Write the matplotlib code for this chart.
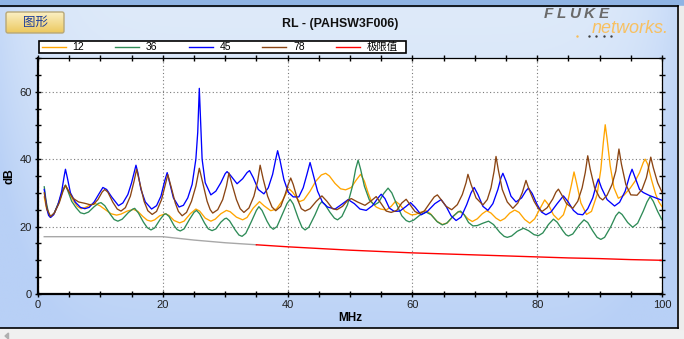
import numpy as np
import matplotlib
matplotlib.use('Agg')
import matplotlib.pyplot as plt
from matplotlib.patches import Rectangle, FancyBboxPatch, Polygon

plt.rcParams['font.family'] = ['Liberation Sans', 'Noto Sans CJK SC', 'DejaVu Sans']

# ---------------- data ----------------
title = 'RL - (PAHSW3F006)'
series_names = ['12', '36', '45', '78']
limit_name = '极限值'
x_ticks = [0, 20, 40, 60, 80, 100]
y_ticks = [0, 20, 40, 60]

freq_12 = [1.0, 1.4, 2.0, 2.6, 3.4, 4.0, 4.4, 4.8, 5.6, 6.3, 6.9, 7.6, 8.4, 9.2, 9.9, 10.8, 11.7,
           12.6, 13.3, 14.3, 15.3, 16.0, 16.8, 17.5, 18.1, 18.7, 19.5, 20.4, 21.0, 21.8, 22.7,
           23.4, 24.4, 25.3, 25.9, 26.8, 27.7, 28.4, 29.3, 30.2, 30.8, 31.8, 32.8, 33.5, 34.5,
           35.5, 36.2, 37.3, 38.2, 39.2, 39.9, 40.3, 40.8, 41.9, 42.6, 43.6, 44.5, 45.4, 46.1,
           46.7, 47.6, 48.5, 49.3, 50.2, 51.0, 51.7, 52.3, 52.9, 53.5, 54.2, 54.9, 55.8, 56.6,
           57.3, 58.0, 58.8, 59.8, 60.5, 61.4, 62.2, 62.9, 63.9, 64.8, 65.6, 66.5, 67.4, 68.1,
           68.9, 69.6, 70.4, 71.2, 71.9, 72.6, 73.4, 74.1, 74.8, 75.6, 76.4, 77.1, 78.0, 78.8,
           79.6, 80.5, 81.2, 81.8, 82.6, 83.4, 84.2, 84.9, 85.5, 85.9, 86.3, 87.0, 87.9, 88.7,
           89.6, 90.2, 90.6, 90.9, 91.2, 91.7, 92.3, 93.0, 93.9, 94.9, 95.7, 96.4, 97.0, 97.3,
           97.7, 98.3, 99.0, 99.5, 100.0]
db_12 = [28.8, 25.0, 22.8, 23.8, 27.5, 31.0, 32.2, 31.0, 27.9, 26.0, 25.3, 25.7, 26.4, 26.8, 26.2,
         25.0, 23.8, 23.4, 23.7, 24.6, 25.1, 24.5, 23.0, 21.9, 21.6, 22.0, 23.2, 23.8, 23.3, 21.8,
         21.1, 21.6, 23.8, 25.2, 24.6, 22.5, 21.6, 22.2, 23.8, 24.8, 24.4, 22.8, 22.0, 22.7, 25.5,
         27.4, 26.2, 24.7, 25.2, 27.8, 30.3, 31.1, 30.2, 27.4, 27.9, 30.5, 33.4, 35.3, 35.8,
         35.0, 32.8, 31.2, 30.9, 31.6, 33.8, 35.5, 33.5, 30.0, 27.2, 25.8, 25.2, 24.9, 26.0,
         27.5, 26.5, 24.5, 23.5, 23.6, 24.3, 24.7, 23.8, 21.6, 20.6, 21.1, 23.0, 24.5, 23.9,
         22.3, 21.5, 22.3, 23.8, 24.7, 24.0, 22.5, 21.7, 22.4, 24.0, 24.9, 24.2, 22.1, 21.0,
         22.3, 25.5, 27.9, 26.5, 23.5, 22.0, 23.5, 27.5, 32.5, 36.2, 33.0, 27.0, 23.6, 24.5,
         29.5, 37.0, 45.0, 50.2, 46.0, 38.0, 31.5, 28.4, 29.3, 31.4, 33.5, 36.0, 39.0, 40.0,
         38.5, 34.0, 29.5, 27.3, 25.9]

freq_36 = [1.0, 1.3, 1.7, 2.0, 2.6, 3.4, 4.0, 4.4, 4.8, 5.4, 6.1, 6.8, 7.4, 8.1, 9.0, 9.7, 10.1,
           10.7, 11.6, 12.2, 12.8, 13.5, 14.5, 15.2, 15.5, 16.1, 16.9, 17.5, 18.1, 18.7, 19.6,
           20.2, 20.5, 21.0, 21.8, 22.3, 22.8, 23.4, 24.3, 25.0, 25.4, 25.9, 26.7, 27.3, 27.9,
           28.5, 29.3, 29.9, 30.2, 30.7, 31.6, 32.2, 32.7, 33.3, 34.2, 35.0, 35.4, 35.9, 36.7,
           37.2, 37.7, 38.3, 39.2, 39.9, 40.4, 40.9, 41.7, 42.3, 42.8, 43.4, 44.4, 45.1, 45.5,
           46.0, 46.8, 47.5, 48.0, 48.7, 49.6, 50.4, 50.9, 51.3, 51.7, 52.3, 53.1, 53.9, 54.6,
           55.4, 56.1, 56.7, 57.5, 58.3, 59.0, 59.5, 60.2, 61.2, 62.2, 63.0, 64.0, 64.8, 65.5,
           66.5, 67.3, 67.7, 68.3, 69.0, 69.7, 70.4, 71.3, 72.2, 73.0, 74.0, 74.7, 75.2, 75.9,
           76.8, 77.8, 78.6, 79.5, 80.2, 80.9, 81.8, 82.6, 83.2, 84.1, 84.6, 85.0, 85.7, 86.7,
           87.5, 88.1, 88.9, 89.6, 90.2, 90.8, 91.8, 92.6, 93.1, 93.6, 94.5, 95.3, 96.1, 97.0,
           97.6, 98.1, 98.6, 99.3, 100.0]
db_36 = [31.8, 27.5, 23.8, 22.8, 24.0, 27.5, 30.8, 32.3, 30.5, 27.5, 25.6, 24.1, 23.8, 24.3, 25.9,
         26.9, 27.1, 26.2, 23.6, 22.1, 21.6, 22.2, 24.2, 25.2, 25.4, 24.0, 21.3, 19.7, 19.0, 19.6,
         22.2, 23.6, 23.8, 23.0, 20.3, 19.1, 18.7, 19.3, 22.2, 24.2, 24.8, 23.8, 21.0, 19.3,
         18.8, 19.3, 21.3, 22.3, 22.5, 21.7, 19.0, 17.5, 17.1, 18.0, 21.5, 24.8, 25.9, 24.8,
         21.6, 20.0, 19.2, 20.0, 23.8, 26.8, 28.1, 26.7, 22.5, 19.8, 19.0, 19.8, 23.5, 26.5,
         27.4, 26.5, 24.2, 22.5, 22.0, 23.0, 26.5, 32.0, 37.0, 39.7, 37.0, 32.0, 27.9, 26.4,
         27.2, 29.8, 31.4, 30.0, 26.5, 23.2, 21.8, 21.4, 21.9, 23.4, 24.3, 23.5, 21.4, 20.5,
         21.0, 23.0, 24.3, 24.6, 23.5, 21.2, 20.2, 20.3, 21.0, 21.6, 20.6, 18.3, 17.1, 16.8,
         17.2, 18.6, 19.5, 18.8, 17.6, 17.3, 18.1, 20.6, 22.2, 21.3, 18.8, 17.6, 17.2, 17.8,
         20.4, 22.0, 21.2, 18.7, 16.8, 16.2, 16.8, 20.0, 23.2, 24.3, 23.6, 21.2, 19.8, 21.0,
         24.6, 27.3, 28.9, 27.5, 24.5, 22.0]

freq_45 = [1.0, 1.4, 1.7, 2.0, 2.5, 3.2, 3.8, 4.2, 4.4, 4.7, 5.2, 6.0, 6.8, 7.5, 8.2, 9.0, 9.8,
           10.4, 11.0, 11.8, 12.9, 13.6, 14.4, 15.0, 15.5, 15.7, 16.0, 16.5, 17.2, 18.2, 19.0,
           19.7, 20.3, 20.7, 21.1, 21.7, 22.6, 23.3, 24.0, 24.7, 25.3, 25.6, 25.85, 26.05, 26.3,
           26.8, 27.7, 28.5, 29.3, 30.0, 30.3, 30.8, 31.9, 32.8, 33.5, 33.9, 34.5, 35.3, 36.2,
           36.9, 37.6, 38.1, 38.4, 38.8, 39.4, 40.1, 40.9, 41.8, 42.5, 43.1, 43.6, 44.1, 44.8,
           45.6, 46.4, 47.6, 48.6, 49.7, 50.7, 51.6, 52.6, 53.6, 54.5, 55.0, 55.6, 56.3, 57.1,
           58.0, 59.0, 59.7, 60.4, 61.4, 62.4, 63.6, 64.6, 65.4, 66.2, 67.0, 67.8, 68.7, 69.4,
           69.9, 70.5, 71.3, 72.1, 72.9, 73.7, 74.2, 74.5, 75.0, 75.8, 76.6, 77.5, 78.2, 78.6,
           79.2, 80.0, 80.7, 81.4, 82.2, 83.2, 84.2, 84.9, 85.8, 86.5, 87.3, 88.1, 88.9, 89.5,
           89.8, 90.3, 91.2, 92.4, 93.2, 94.1, 94.8, 95.2, 95.7, 96.4, 97.0, 98.0, 99.0, 100.0]
db_45 = [31.0, 25.5, 23.3, 22.7, 23.5, 26.5, 30.5, 35.0, 37.0, 34.5, 30.0, 27.2, 25.7, 25.3, 25.7,
         27.3, 29.8, 31.6, 31.0, 28.8, 26.2, 27.0, 29.5, 33.0, 36.8, 38.2, 36.0, 31.0, 27.3,
         25.2, 26.2, 29.0, 33.5, 36.0, 33.0, 28.5, 25.8, 26.3, 28.5, 32.5, 40.0, 48.0, 61.0,
         52.0, 40.0, 33.0, 29.4, 30.5, 33.0, 35.7, 36.3, 35.3, 32.7, 34.2, 36.0, 36.6, 34.5,
         31.0, 29.7, 31.5, 35.5, 40.0, 42.5, 39.5, 34.0, 30.2, 28.8, 28.8, 31.5, 35.5, 39.0,
         35.5, 30.5, 27.2, 25.8, 25.2, 26.5, 28.0, 26.8, 25.2, 24.8, 26.2, 28.5, 29.6, 28.3,
         25.5, 24.5, 24.6, 26.0, 27.1, 25.8, 23.5, 24.5, 26.8, 28.0, 26.0, 23.2, 21.8, 22.8,
         26.5, 30.0, 31.6, 29.5, 26.0, 24.8, 26.8, 31.0, 34.5, 35.8, 33.5, 29.0, 27.3, 28.5,
         30.6, 31.4, 29.8, 26.5, 24.3, 23.5, 24.3, 26.8, 29.1, 27.5, 24.8, 23.7, 23.5, 25.3,
         28.5, 32.5, 34.1, 31.5, 28.0, 26.1, 27.2, 30.5, 35.0, 37.0, 34.5, 31.0, 30.1, 29.2,
         28.5, 27.8]

freq_78 = [1.0, 1.4, 2.0, 2.6, 3.4, 4.0, 4.4, 4.9, 5.6, 6.5, 7.5, 8.3, 8.9, 9.6, 10.3, 10.7,
           11.2, 12.0, 12.7, 13.3, 14.0, 14.8, 15.4, 15.8, 16.3, 17.0, 17.6, 18.3, 19.0, 19.8,
           20.4, 20.8, 21.3, 22.0, 22.5, 23.1, 23.8, 24.6, 25.3, 25.85, 26.4, 27.1, 27.6, 28.0,
           28.8, 29.6, 30.2, 30.6, 31.1, 31.8, 32.4, 33.0, 33.8, 34.6, 35.2, 35.6, 36.1, 36.8,
           37.5, 38.1, 38.9, 39.6, 40.1, 40.5, 40.9, 41.6, 42.2, 42.8, 43.6, 44.6, 45.5, 46.3,
           47.2, 47.9, 48.8, 49.6, 50.2, 51.2, 52.4, 53.3, 54.2, 55.0, 55.8, 56.6, 57.5, 58.3,
           59.0, 59.7, 60.4, 61.1, 61.9, 62.8, 63.5, 64.0, 64.6, 65.4, 66.3, 67.2, 68.0, 68.6,
           68.9, 69.4, 70.2, 71.3, 72.0, 72.6, 73.1, 73.4, 73.8, 74.4, 75.2, 76.1, 76.9, 77.6,
           78.2, 78.7, 79.5, 80.2, 80.8, 81.6, 82.5, 83.0, 83.4, 83.9, 84.7, 85.7, 86.5, 87.2,
           87.7, 88.1, 88.5, 89.2, 90.0, 90.5, 91.2, 92.0, 92.6, 93.1, 93.5, 94.2, 95.0, 96.0,
           96.8, 97.5, 97.9, 98.2, 98.6, 99.3, 100.0]
db_78 = [30.0, 25.5, 23.0, 24.0, 27.0, 30.5, 32.2, 30.5, 28.4, 27.3, 26.9, 26.5, 26.6, 28.0, 30.3,
         31.0, 30.2, 27.2, 25.2, 24.6, 25.6, 29.0, 33.5, 37.0, 33.0, 27.5, 24.7, 23.6, 24.5,
         28.0, 32.5, 35.4, 32.0, 27.0, 24.5, 23.2, 24.2, 27.5, 32.0, 37.3, 33.0, 27.5, 25.0,
         24.0, 25.0, 28.0, 32.0, 35.9, 32.5, 28.0, 25.3, 24.2, 25.5, 29.0, 33.5, 38.2, 34.0,
         29.0, 25.8, 24.7, 26.0, 29.5, 32.5, 34.4, 32.5, 28.0, 25.3, 24.6, 25.3, 27.5, 29.1,
         27.5, 25.3, 25.0, 26.0, 27.7, 28.3, 27.3, 26.3, 27.5, 28.9, 26.8, 24.6, 24.2, 24.8,
         27.0, 28.1, 26.3, 24.5, 23.8, 24.6, 27.0, 28.8, 29.4, 28.0, 26.0, 25.0, 26.5, 29.5,
         33.0, 35.5, 32.5, 28.5, 26.4, 28.0, 31.5, 36.5, 40.8, 36.5, 31.0, 27.3, 25.4, 27.0,
         30.0, 33.7, 31.0, 27.5, 25.3, 24.5, 25.6, 28.2, 30.2, 31.1, 29.5, 26.8, 25.4, 27.5,
         31.5, 36.0, 41.0, 37.0, 31.5, 28.6, 27.9, 29.3, 32.5, 36.5, 43.0, 38.5, 32.5, 29.4,
         29.3, 31.0, 34.5, 38.0, 40.6, 37.5, 33.0, 30.2]

limit_freq = [1, 20, 25, 30, 35, 40, 45, 50, 55, 60, 65, 70, 75, 80, 85, 90, 95, 100]
limit_db = [17.0, 17.0, 16.0, 15.2, 14.6, 14.0, 13.5, 13.0, 12.6, 12.2, 11.9, 11.6, 11.3,
            11.0, 10.7, 10.5, 10.2, 10.0]
limit_split = 35   # limit drawn grey below this frequency, red above

# ---------------- styling ----------------
colors = {'12': '#ffa500', '36': '#2e8b57', '45': '#0000ff', '78': '#8b4513'}
limit_color = '#ff0000'
limit_grey = '#a8a8a8'

W, H = 684, 339
fig = plt.figure(figsize=(W / 100, H / 100), dpi=100)
fig.patch.set_facecolor('#f0f0f0')

bg = fig.add_axes([0, 0, 1, 1])
bg.set_xlim(0, W)
bg.set_ylim(H, 0)
bg.axis('off')

# panel gradient
gx = np.linspace(0, 1, 300)
gy = np.linspace(0, 1, 200)
X, Y = np.meshgrid(gx, gy)
th = np.abs(X - 0.5) * 2
t = np.clip(0.9 * Y ** 1.3 + 0.6 * th ** 8, 0, 1)
light = np.array([222, 234, 250]) / 255
dark = np.array([184, 208, 246]) / 255
img = light + (dark - light) * t[..., None]
bg.imshow(img, extent=(0, 677, 328, 6), aspect='auto', interpolation='bilinear', zorder=0)

bg.add_patch(Rectangle((0, 0), W, 5.5, color='#8fb4e4', zorder=1))
bg.add_patch(Rectangle((678, 6), 6, 323, color='#ececec', zorder=1))
bg.plot([0, 677.5], [6, 6], color='black', lw=1.2, zorder=2)
bg.plot([677.5, 677.5], [6, 328], color='black', lw=1.2, zorder=2)
bg.plot([0, 677.5], [328, 328], color='black', lw=1.2, zorder=2)
bg.add_patch(Polygon([[5, 336], [8.5, 333], [8.5, 339]], closed=True, color='#b0b0b0', zorder=2))

# button
by = np.linspace(0, 1, 50)[:, None] * np.ones((1, 10))
btop = np.array([251, 240, 196]) / 255
bbot = np.array([236, 200, 94]) / 255
bimg = btop + (bbot - btop) * by[..., None]
bim = bg.imshow(bimg, extent=(6, 64, 33, 12), aspect='auto', zorder=2)
bpatch = FancyBboxPatch((6, 12), 58, 21, boxstyle='round,pad=0,rounding_size=2',
                        fc='none', ec='#b8a878', lw=1.0, zorder=3)
bg.add_patch(bpatch)
bim.set_clip_path(bpatch)
bg.text(35, 22.5, '图形', ha='center', va='center', fontsize=9, color='#1f3f9a',
        family=['Noto Sans CJK SC'], zorder=4)

# title
bg.text(340, 23.5, title, ha='center', va='center', fontsize=8.9, fontweight='bold',
        color='#111111', zorder=4)

# logo
for ch, xx in zip('FLUKE', [544, 556.8, 569.6, 584.1, 598.6]):
    bg.text(xx, 14, ch, ha='left', va='center', fontsize=11, style='italic',
            fontweight='bold', color='#6a6a6a', zorder=4)
bg.text(592, 28.5, 'networks.', ha='left', va='center', fontsize=13, style='italic',
        color='#f8c060', zorder=4)
bg.scatter([576.5], [36], s=3, color='#f7bd55', zorder=4, linewidths=0)
bg.scatter([588.5, 596, 603.5, 611], [36, 36, 36, 36], s=3, color='#404040', zorder=4, linewidths=0)

# legend
bg.add_patch(Rectangle((38.5, 40.5), 367.5, 12, fc='white', ec='black', lw=1.2, zorder=3))
leg_items = [(n, colors[n]) for n in series_names] + [(limit_name, limit_color)]
for i, (name, col) in enumerate(leg_items):
    x0 = 41.5 + i * 73.5
    bg.plot([x0, x0 + 24], [46.5, 46.5], color=col, lw=1.0, zorder=4)
    bg.text(x0 + 31, 46.8, name, ha='left', va='center', fontsize=7.5, color='black', zorder=4)

# main axes
L, R, T, B = 38, 662, 58, 294
ax = fig.add_axes([L / W, (H - B) / H, (R - L) / W, (B - T) / H])
ax.set_facecolor('white')
ax.set_xlim(0, 100)
ax.set_ylim(0, 70)

ax.plot(freq_12, db_12, color=colors['12'], lw=0.95, zorder=3)
ax.plot(freq_36, db_36, color=colors['36'], lw=0.95, zorder=3)
ax.plot(freq_45, db_45, color=colors['45'], lw=0.95, zorder=3)
ax.plot(freq_78, db_78, color=colors['78'], lw=0.95, zorder=3)

lf = np.array(limit_freq, dtype=float)
ld = np.array(limit_db, dtype=float)
lo = lf <= limit_split
hi = lf >= limit_split
ax.plot(lf[lo], ld[lo], color=limit_grey, lw=1.0, zorder=3)
ax.plot(lf[hi], ld[hi], color=limit_color, lw=1.0, zorder=3)

ax.set_xticks(x_ticks)
ax.set_xticks(np.arange(0, 101, 5), minor=True)
ax.set_yticks(y_ticks)
ax.set_yticks(np.arange(0, 71, 5), minor=True)
ax.tick_params(which='both', direction='inout', length=5, width=1, color='black',
               top=True, right=True, labeltop=False, labelright=False,
               labelsize=8, labelcolor='#202020', pad=2)
ax.grid(True, which='major', color='#7a7a7a', linestyle=(0, (1, 2.2)), linewidth=0.8, zorder=1)
for s in ['left', 'bottom']:
    ax.spines[s].set_linewidth(1.6)
for s in ['top', 'right']:
    ax.spines[s].set_linewidth(0.9)
ax.set_xlabel('MHz', fontsize=8.5, fontweight='bold', labelpad=1)
ax.set_ylabel('dB', fontsize=8.5, fontweight='bold', labelpad=3)

fig.savefig('out.png', dpi=100)
